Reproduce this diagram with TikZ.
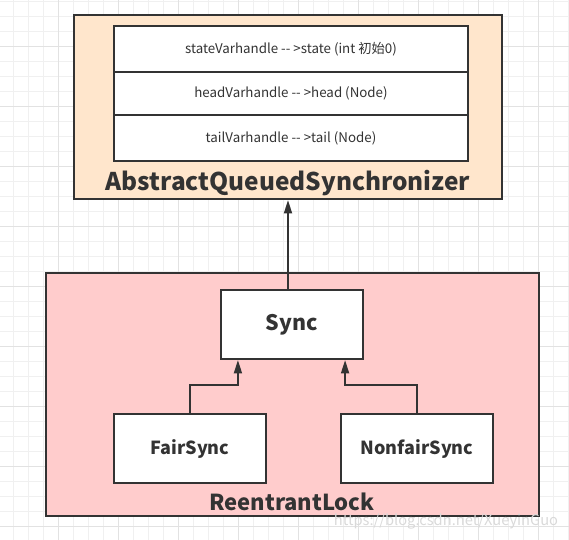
\documentclass[tikz,border=0pt]{standalone}
\usepackage{fontspec}
\setmainfont{Noto Sans CJK SC}
\usetikzlibrary{positioning,arrows.meta}
\definecolor{linecolor}{HTML}{333333}
\definecolor{textcolor}{HTML}{333333}
\definecolor{aqscolor}{HTML}{FFE6CC}
\definecolor{lockcolor}{HTML}{FFCCCC}
\definecolor{gridminor}{HTML}{F0F0F0}
\definecolor{gridmajor}{HTML}{E2E2E2}
\newcommand{\px}{0.75pt}
\tikzset{
  outerbox/.style={draw=linecolor,line width=1.6pt,inner sep=0pt},
  fieldbox/.style={draw=linecolor,line width=1.3pt,fill=white,inner sep=0pt,
      minimum width=354*\px,text=textcolor,font=\fontsize{10}{12}\selectfont},
  classbox/.style={draw=linecolor,line width=1.6pt,fill=white,inner sep=0pt,
      minimum height=69*\px,text=textcolor,font=\bfseries\fontsize{13.5}{16}\selectfont},
  boxtitle/.style={text=textcolor,inner sep=0pt,font=\bfseries\fontsize{18.3}{21}\selectfont},
  inherit/.style={draw=linecolor,line width=1.3pt,-{Triangle[length=10pt,width=6pt]}},
  gridline/.style={line width=0.75pt}
}
\newcommand{\fieldrow}[4]{
    % Field Row of a Class Table
    % \fieldrow{name}{position}{height in px}{text}
    % example:
    %   \fieldrow{rowOne}{(291,49)}{46}{text}
    \node (#1) [fieldbox,minimum height=#3*\px] at #2 {#4};
}

\begin{document}
\begin{tikzpicture}[x=\px,y=-\px]
  \useasboundingbox (0,0) rectangle (569,540);
  % background grid
  \foreach \gx in {13.5,28.5,...,568.5}
    \draw[gridline,gridminor] (\gx,0) -- (\gx,540);
  \foreach \gy in {1,16,...,540}
    \draw[gridline,gridminor] (0,\gy) -- (569,\gy);
  \foreach \gx in {58.5,118.5,...,568.5}
    \draw[gridline,gridmajor] (\gx,0) -- (\gx,540);
  \foreach \gy in {46,106,...,540}
    \draw[gridline,gridmajor] (0,\gy) -- (569,\gy);

  % AbstractQueuedSynchronizer
  \node (aqs) [outerbox,fill=aqscolor,minimum width=428*\px,
      minimum height=184*\px] at (288,107) {};
  \fieldrow{rowState}{(291,49)}{46}{stateVarhandle -{}- >state (int 初始0)}
  \fieldrow{rowHead}{(291,93.5)}{43}{headVarhandle -{}- >head (Node)}
  \fieldrow{rowTail}{(291,138)}{46}{tailVarhandle -{}- >tail (Node)}
  \node (aqsTitle) [boxtitle] at (288,183) {AbstractQueuedSynchronizer};

  % ReentrantLock
  \node (lock) [outerbox,fill=lockcolor,minimum width=493*\px,
      minimum height=243*\px] at (292.5,394.5) {};
  \node (sync) [classbox,minimum width=142*\px,
      font=\bfseries\fontsize{16}{19}\selectfont] at (292,324.5) {Sync};
  \node (fair) [classbox,minimum width=152*\px] at (190,448.5) {FairSync};
  \node (nonfair) [classbox,minimum width=152*\px] at (417,448.5) {NonfairSync};
  \node (lockTitle) [boxtitle,font=\bfseries\fontsize{16.5}{19}\selectfont]
      at (292,502) {ReentrantLock};

  \draw[inherit] (sync.north -| aqs.south) -- (aqs.south);
  \draw[inherit] (fair.north) -- ++(0,-28) -| ([xshift=18*\px]sync.south west);
  \draw[inherit] (nonfair.north) -- ++(0,-28) -| ([xshift=-19*\px]sync.south east);

  % watermark
  \node (mark) [text=gray!30,inner sep=0pt,font=\fontsize{11}{13}\selectfont]
      at (446,521) {https://blog.csdn.net/XueyinGuo};
\end{tikzpicture}
\end{document}
